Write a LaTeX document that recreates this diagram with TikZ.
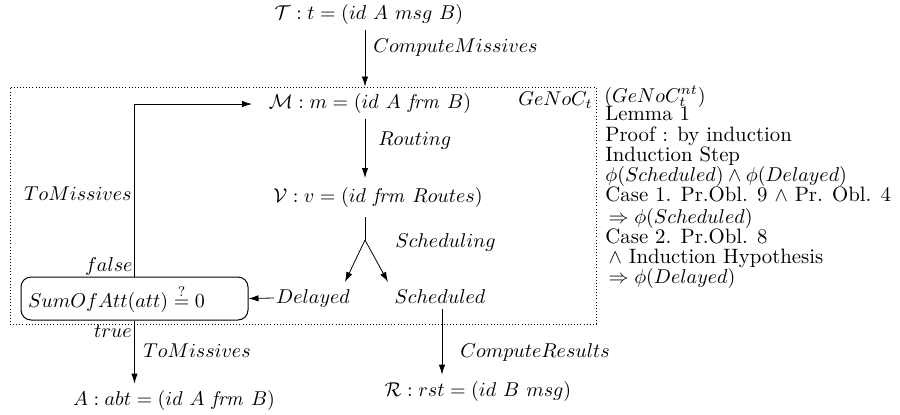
\documentclass[tikz,border=0pt]{standalone}
\usetikzlibrary{arrows.meta}
\begin{document}
\begin{tikzpicture}[x=0.5pt,y=-0.5pt,
  >={Latex[length=5pt,width=3.2pt]},
  every node/.style={font=\fontsize{10.4}{12.5}\selectfont},
  lbl/.style={inner sep=0pt, anchor=base},
  lw/.style={inner sep=0pt, anchor=base west},
  le/.style={inner sep=0pt, anchor=base east},
  txt/.style={inner sep=0pt, anchor=base west}]
\useasboundingbox (0,0) rectangle (900,414);
% dotted frame
\node (box) [draw, dash pattern=on 0.45pt off 1.1pt, line width=0.45pt, inner sep=0pt, minimum width=293pt, minimum height=118.5pt] at (303,205.5) {};
\node (gen) [le] at (593,105) {$GeNoC_t$};
% main nodes
\node (T) [lbl] at (369,19) {$\mathcal{T}: t = (id\ A\ msg\ B)$};
\node (M) [lbl] at (370,108) {$\mathcal{M}: m = (id\ A\ \mathit{frm}\ B)$};
\node (V) [lbl] at (378,202) {$\mathcal{V}: v = (id\ \mathit{frm}\ Routes)$};
\node (D) [lbl] at (313,303) {$Delayed$};
\node (S) [lbl] at (440,303) {$Scheduled$};
\node (sum) [draw, rounded corners=5pt, line width=0.5pt, minimum width=113.5pt, minimum height=21.5pt, text width=106.5pt, inner xsep=3.5pt, inner ysep=0pt, align=left] at (134.5,298.5) {$SumOfAtt(att) \stackrel{?}{=} 0$};
\node (A) [lbl] at (174,405) {$A: abt = (id\ A\ \mathit{frm}\ B)$};
\node (R) [lbl] at (478,396) {$\mathcal{R}: rst = (id\ B\ msg)$};
% coordinates
\coordinate (mx) at (365,0);
\coordinate (f1) at (365,217);
\coordinate (f2) at (365,240);
\coordinate (dl) at (345,282);
\coordinate (sr) at (388,282);
\coordinate (mv) at (365,178);
\coordinate (sx) at (442,0);
\coordinate (mt) at (252,104);
% connectors
\draw[->] ([yshift=-3pt]T.south -| mx) -- (box.north -| mx);
\draw[->] ([yshift=-3pt]M.south -| mx) -- (mv);
\draw (f1) -- (f2);
\draw[->] (f2) -- (dl);
\draw[->] (f2) -- (sr);
\draw[->] ([xshift=-1pt]D.west) -- (sum.east);
\draw[->] (sum.north) |- (mt);
\draw[->] (sum.south) -- ([yshift=3pt]A.north -| sum.south);
\draw[->] ([yshift=-3pt]S.south -| sx) -- ([yshift=3pt]R.north -| sx);
% labels
\node [lw] at (373,52) {$ComputeMissives$};
\node [lw] at (378,145) {$Routing$};
\node [lw] at (395,247) {$Scheduling$};
\node [lw] at (460,357) {$ComputeResults$};
\node [le] at (132,200) {$ToMissives$};
\node [lw] at (143,357) {$ToMissives$};
\node [le] at (133,271) {$false$};
\node [le] at (132,337) {$true$};
% right text
\node [txt] at (604,102) {$(GeNoC_t^{nt})$};
\node [txt] at (605,120) {Lemma 1};
\node [txt] at (605,141) {Proof : by induction};
\node [txt] at (605,161) {Induction Step};
\node [txt] at (605,181) {$\phi(Scheduled) \wedge \phi(Delayed)$};
\node [txt] at (605,201) {Case 1. Pr.Obl. 9 $\wedge$ Pr. Obl. 4};
\node [txt] at (605,223) {$\,\Rightarrow \phi(Scheduled)$};
\node [txt] at (605,243) {Case 2. Pr.Obl. 8};
\node [txt] at (605,263) {$\,\wedge$ Induction Hypothesis};
\node [txt] at (605,283) {$\,\Rightarrow \phi(Delayed)$};
\end{tikzpicture}
\end{document}
